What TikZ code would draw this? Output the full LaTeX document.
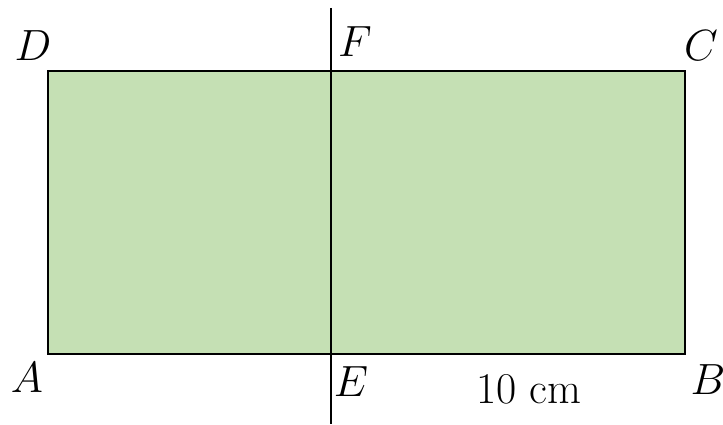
\documentclass[tikz,border=0pt]{standalone}
\usepackage{tikz}
\usetikzlibrary{positioning}
\definecolor{leafgreen}{HTML}{C5E0B4}

\begin{document}
\begin{tikzpicture}[x=0.02cm,y=-0.02cm,
                    edge/.style={draw=black,line width=1.1pt},
                    lbl/.style={inner sep=0pt,font=\fontsize{24}{28}\selectfont}]
  \useasboundingbox (0,0) rectangle (723,425);

  \coordinate (A) at (48,354);
  \coordinate (B) at (685,354);
  \coordinate (C) at (685,71);
  \coordinate (D) at (48,71);
  \coordinate (Ftop) at (331,8);
  \coordinate (Ebot) at (331,424);

  \fill[leafgreen] (A) rectangle (C);
  \draw[edge] (A) -- (B) -- (C) -- (D) -- cycle;
  \draw[edge] (Ftop) -- (Ebot);

  \node[lbl] (lD) at (33,46)  {$D$};
  \node[lbl] (lF) at (355,42) {$F$};
  \node[lbl] (lC) at (701,46) {$C$};
  \node[lbl] (lA) at (27,378) {$A$};
  \node[lbl] (lE) at (351,382) {$E$};
  \node[lbl] (lB) at (708,380) {$B$};
  \node[lbl,font=\fontsize{25}{30}\selectfont] (len) at (529,389) {10 cm};
\end{tikzpicture}
\end{document}
